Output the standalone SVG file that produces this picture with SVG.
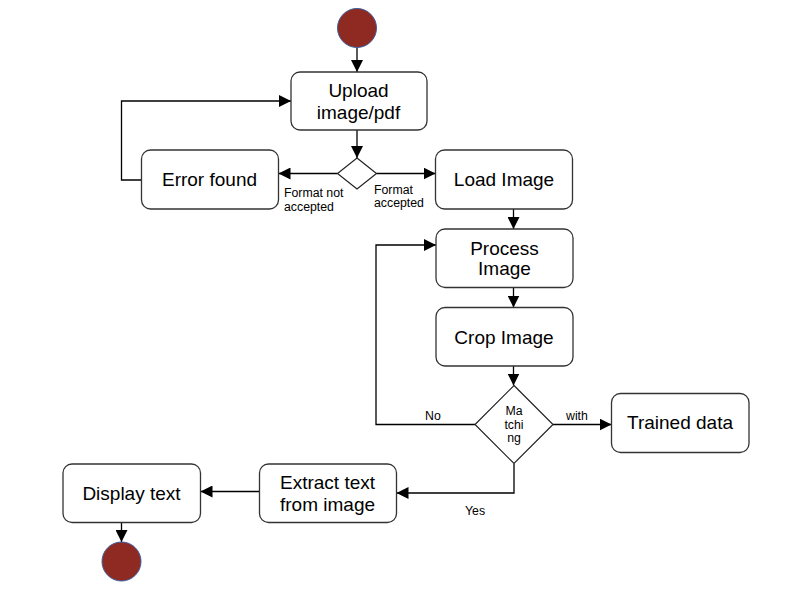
<svg xmlns="http://www.w3.org/2000/svg" width="808" height="603" viewBox="0 0 808 603">
<style>
.box{fill:#fff;stroke:#333;stroke-width:1.3}
.dia{fill:#fff;stroke:#222;stroke-width:1.2}
.dot{fill:#8e2a22;stroke:#3d5f9e;stroke-width:1}
.t{font-family:"Liberation Sans",Arial,sans-serif;font-size:19px;fill:#000;text-anchor:middle}
.s{font-family:"Liberation Sans",Arial,sans-serif;font-size:12.3px;fill:#000}
.c{fill:none;stroke:#000;stroke-width:1.3}
</style>
<defs>
<marker id="ar" viewBox="0 0 12 12" refX="12" refY="6" markerWidth="12" markerHeight="12" markerUnits="userSpaceOnUse" orient="auto">
<path d="M0,0 L12,6 L0,12 Z" fill="#000"/>
</marker>
</defs>
<g id="connectors">
<line class="c" x1="357" y1="48" x2="357" y2="72" marker-end="url(#ar)"/>
<line class="c" x1="357" y1="130" x2="357" y2="158" marker-end="url(#ar)"/>
<line class="c" x1="337.5" y1="173.5" x2="278.5" y2="173.5" marker-end="url(#ar)"/>
<line class="c" x1="376.5" y1="173.5" x2="435.5" y2="173.5" marker-end="url(#ar)"/>
<polyline class="c" points="141.5,180 121.5,180 121.5,101 291,101" marker-end="url(#ar)"/>
<line class="c" x1="513.5" y1="209" x2="513.5" y2="229" marker-end="url(#ar)"/>
<line class="c" x1="513.5" y1="287.5" x2="513.5" y2="307.5" marker-end="url(#ar)"/>
<line class="c" x1="513.5" y1="366" x2="513.5" y2="385.5" marker-end="url(#ar)"/>
<line class="c" x1="553" y1="424.5" x2="611.5" y2="424.5" marker-end="url(#ar)"/>
<polyline class="c" points="475,424.5 376,424.5 376,245 436,245" marker-end="url(#ar)"/>
<polyline class="c" points="514,463.5 514,493 396.5,493" marker-end="url(#ar)"/>
<line class="c" x1="259.5" y1="491.5" x2="200.5" y2="491.5" marker-end="url(#ar)"/>
<line class="c" x1="121.5" y1="522.5" x2="121.5" y2="542" marker-end="url(#ar)"/>
<text class="s" x="284" y="197">Format not</text>
<text class="s" x="284" y="211">accepted</text>
<text class="s" x="374" y="194">Format</text>
<text class="s" x="374" y="207">accepted</text>
<text class="s" x="566" y="420">with</text>
<text class="s" x="425" y="420">No</text>
<text class="s" x="465" y="515">Yes</text>
</g>
<g id="start"><circle class="dot" cx="357" cy="28" r="19.5"/></g>
<g id="upload">
<rect class="box" x="291" y="72" width="136" height="58" rx="9"/>
<text class="t" x="358.5" y="97">Upload</text>
<text class="t" x="358.5" y="118.5">image/pdf</text>
</g>
<g id="format-check"><polygon class="dia" points="357,158 376.5,173.5 357,189 337.5,173.5"/></g>
<g id="error-found">
<rect class="box" x="141.5" y="150" width="137" height="59" rx="9"/>
<text class="t" x="209.5" y="186">Error found</text>
</g>
<g id="load-image">
<rect class="box" x="435.5" y="150" width="137" height="59" rx="9"/>
<text class="t" x="504" y="186">Load Image</text>
</g>
<g id="process-image">
<rect class="box" x="436" y="229" width="137" height="58.5" rx="9"/>
<text class="t" x="504.5" y="254.5">Process</text>
<text class="t" x="504.5" y="275">Image</text>
</g>
<g id="crop-image">
<rect class="box" x="436" y="307.5" width="137" height="58.5" rx="9"/>
<text class="t" x="504" y="343.5">Crop Image</text>
</g>
<g id="matching">
<polygon class="dia" points="514,385.5 553,424.5 514,463.5 475,424.5"/>
<text class="s" x="514" y="415" text-anchor="middle">Ma</text>
<text class="s" x="514" y="428.5" text-anchor="middle">tchi</text>
<text class="s" x="514" y="442" text-anchor="middle">ng</text>
</g>
<g id="trained-data">
<rect class="box" x="611.5" y="393.5" width="137.5" height="59" rx="9"/>
<text class="t" x="680" y="429">Trained data</text>
</g>
<g id="extract-text">
<rect class="box" x="259.5" y="464" width="137" height="58.5" rx="9"/>
<text class="t" x="327.5" y="489">Extract text</text>
<text class="t" x="327.5" y="510.5">from image</text>
</g>
<g id="display-text">
<rect class="box" x="63" y="464" width="137.5" height="58.5" rx="9"/>
<text class="t" x="131.5" y="500">Display text</text>
</g>
<g id="end"><circle class="dot" cx="121.5" cy="561.5" r="19.5"/></g>
</svg>
